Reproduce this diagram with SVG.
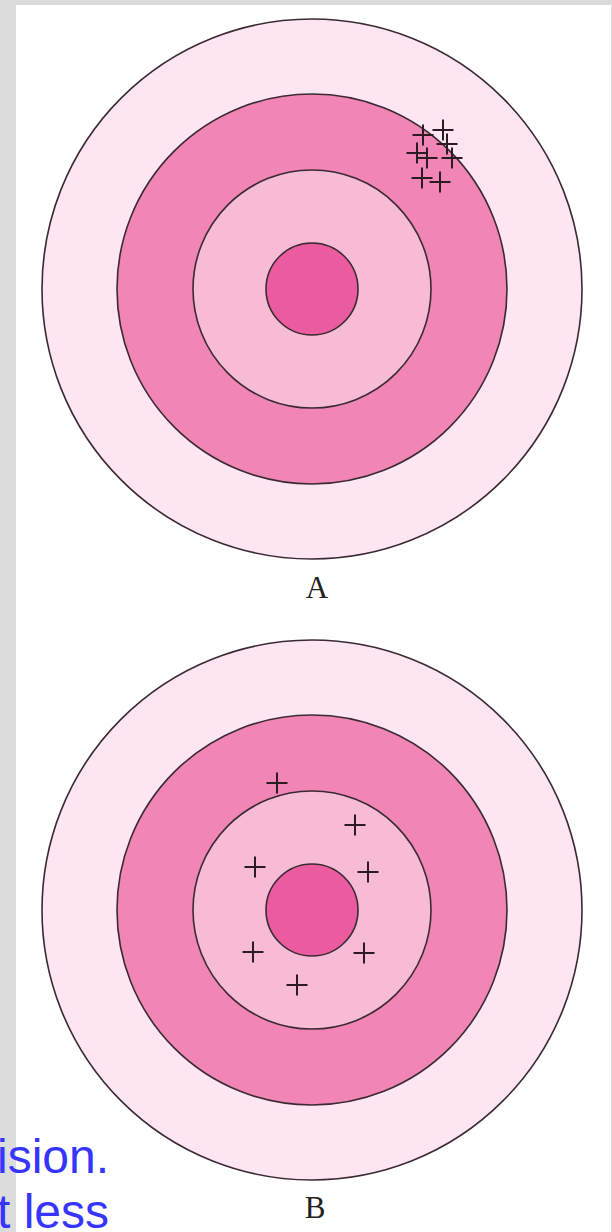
<svg xmlns="http://www.w3.org/2000/svg" width="612" height="1232" viewBox="0 0 612 1232">
<style>
.c{stroke:#3a2a32;stroke-width:1.6}
.r1{fill:#fde6f1}
.r2{fill:#f085b6}
.r3{fill:#f7bbd6}
.r4{fill:#eb5b9f}
.x{stroke:#2a1c22;stroke-width:2;fill:none}
.lbl{font-family:"Liberation Serif",serif;font-size:31px;fill:#222;text-anchor:middle}
.blue{font-family:"Liberation Sans",Arial,sans-serif;font-size:48px;fill:#3535ff}
</style>
<defs>
<path id="p" d="M-10.5 0H10.5M0 -10.5V10.5"/>
</defs>
<rect x="0" y="0" width="612" height="1232" fill="#dcdcdc"/>
<rect x="16" y="5" width="595" height="1227" fill="#ffffff"/>
<g id="targetA">
<circle class="c r1" cx="312" cy="289" r="270"/>
<circle class="c r2" cx="312" cy="289" r="195"/>
<circle class="c r3" cx="312" cy="289" r="119"/>
<circle class="c r4" cx="312" cy="289" r="46"/>
<g class="x">
<use href="#p" x="423" y="135"/>
<use href="#p" x="443" y="130"/>
<use href="#p" x="447" y="144"/>
<use href="#p" x="417" y="153"/>
<use href="#p" x="427" y="158"/>
<use href="#p" x="452" y="158"/>
<use href="#p" x="422" y="178"/>
<use href="#p" x="440" y="182"/>
</g>
<text class="lbl" x="317" y="598">A</text>
</g>
<g id="targetB">
<circle class="c r1" cx="312" cy="910" r="270"/>
<circle class="c r2" cx="312" cy="910" r="195"/>
<circle class="c r3" cx="312" cy="910" r="119"/>
<circle class="c r4" cx="312" cy="910" r="46"/>
<g class="x">
<use href="#p" x="277" y="783"/>
<use href="#p" x="355" y="825"/>
<use href="#p" x="255" y="867"/>
<use href="#p" x="368" y="872"/>
<use href="#p" x="253" y="952"/>
<use href="#p" x="364" y="953"/>
<use href="#p" x="297" y="985"/>
</g>
<text class="lbl" x="315" y="1218">B</text>
</g>
<g id="caption">
<text class="blue" x="-3" y="1173">ision.</text>
<text class="blue" x="-3" y="1228">t less</text>
</g>
</svg>
